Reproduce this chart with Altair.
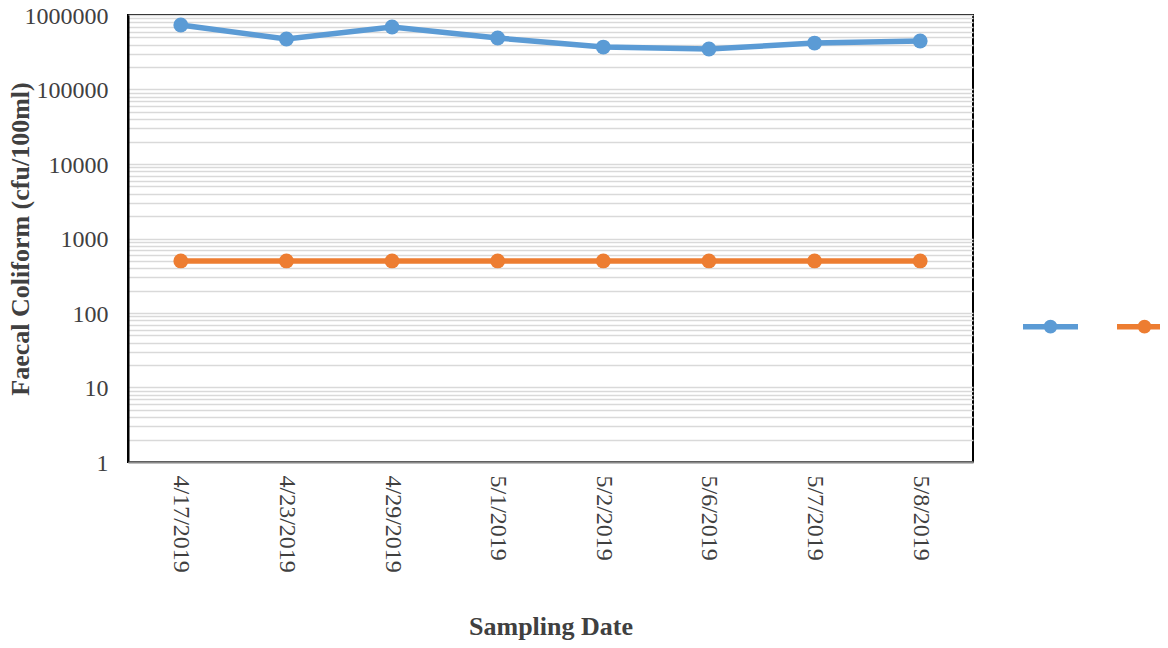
import altair as alt
import pandas as pd

dates = ["4/17/2019", "4/23/2019", "4/29/2019", "5/1/2019",
         "5/2/2019", "5/6/2019", "5/7/2019", "5/8/2019"]
faecal = [735000, 476000, 690000, 491000, 371000, 350000, 420000, 448000]
standard = [500, 500, 500, 500, 500, 500, 500, 500]
series_names = ["Faecal Coliform", "Standard"]
colors = ["#5B9BD5", "#ED7D31"]

rows = []
for name, vals in zip(series_names, [faecal, standard]):
    for d, v in zip(dates, vals):
        rows.append({"date": d, "value": v, "series": name})
df = pd.DataFrame(rows)

grid_values = [m * 10 ** k for k in range(6) for m in range(1, 10)] + [10 ** 6]

font = "Liberation Serif"
text_color = "#404040"

legend_path = ("M-1,0L1,0 "
               "M-0.15,0A0.15,0.15 0 1,1 0.15,0A0.15,0.15 0 1,1 -0.15,0 "
               "M-0.05,0A0.05,0.05 0 1,1 0.05,0A0.05,0.05 0 1,1 -0.05,0")

axis_style = dict(labelFont=font, labelFontSize=24, labelColor=text_color,
                  titleFont=font, titleFontSize=26, titleFontWeight="bold",
                  titleColor=text_color, ticks=False)

base = alt.Chart(df).encode(
    x=alt.X("date:N", sort=dates,
            scale=alt.Scale(type="point", padding=0.5),
            axis=alt.Axis(title="Sampling Date", labelAngle=90,
                          labelPadding=13, titleY=172, titleBaseline="alphabetic",
                          domainColor="#898989", domainWidth=2, grid=False,
                          zindex=1, **axis_style)),
    y=alt.Y("value:Q",
            scale=alt.Scale(type="log", domain=[1, 1000000], nice=False),
            axis=alt.Axis(title="Faecal Coliform (cfu/100ml)", values=grid_values,
                          labelExpr="abs(log(datum.value)/LN10 - round(log(datum.value)/LN10)) < 1e-6 ? format(datum.value, 'd') : ''",
                          labelPadding=20, labelOffset=1, titleX=-100, titleBaseline="alphabetic",
                          domainColor="#000000", domainWidth=2,
                          grid=True, gridColor="#d9d9d9", gridWidth=1.3,
                          **axis_style)),
    color=alt.Color("series:N",
                    scale=alt.Scale(domain=series_names, range=colors),
                    legend=alt.Legend(title=None, orient="none", direction="horizontal",
                                      legendX=892, legendY=281,
                                      symbolType=legend_path, symbolSize=3025,
                                      symbolStrokeWidth=5.5, labelExpr="''",
                                      labelOffset=0, columnPadding=17, padding=0)),
)

line = base.mark_line(strokeWidth=5.5)
pts = base.mark_point(filled=True, size=220, opacity=1)

chart = (line + pts).properties(
    width=845, height=447,
    autosize=alt.AutoSizeParams(type="none"),
    padding={"left": 120, "top": 7, "right": 187, "bottom": 178},
).configure_axis(
    labelFont=font, titleFont=font,
).configure_view(
    stroke="#000000", strokeWidth=2
)

chart.save("out.html", embed_options={"renderer": "svg", "actions": False})
